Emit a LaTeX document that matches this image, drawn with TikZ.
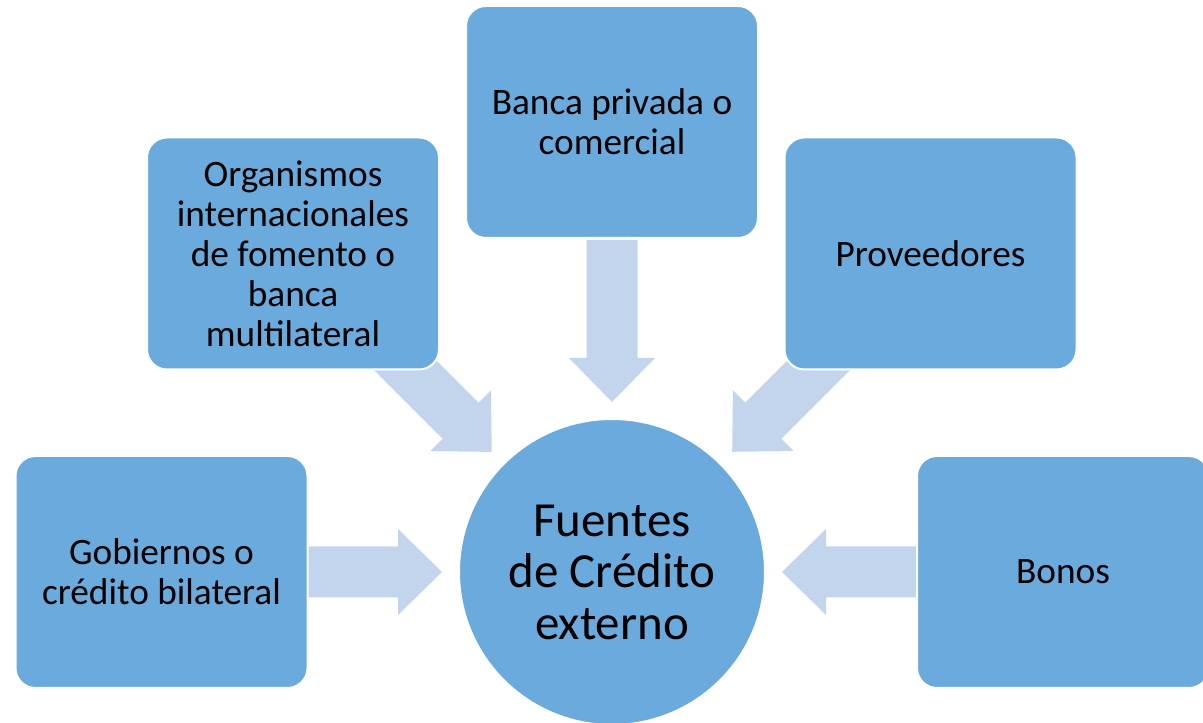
\documentclass[tikz,border=0pt]{standalone}
\usepackage{fontspec}
\setmainfont{Carlito}
\usetikzlibrary{calc,positioning,backgrounds}

\definecolor{cajaazul}{RGB}{107,170,220}
\definecolor{flechaazul}{RGB}{195,213,236}

\begin{document}
\begin{tikzpicture}
[x=1pt,y=1pt,
caja/.style={rectangle,rounded corners=20pt,fill=cajaazul,draw=white,line width=2pt,
minimum width=292pt,minimum height=232pt,align=center,font=\fontsize{37.3}{40}\selectfont},
fuente/.style={circle,fill=cajaazul,draw=white,line width=2pt,minimum size=306pt,
align=center,font=\fontsize{49}{51.5}\selectfont},
flecha/.style={fill=flechaazul}]
%%%%%%%%%%

\useasboundingbox (0,0) rectangle (1203,723);

\node[fuente] (credito) at (612,151) {Fuentes\\de Crédito\\externo};

\node[caja] (gobiernos) at (161.5,151) {Gobiernos o\\crédito bilateral};
\node[caja] (organismos) at (293,469.5) {Organismos\\internacionales\\de fomento o\\banca\\multilateral};
\node[caja] (banca) at (612,601) {Banca privada o\\comercial};
\node[caja] (proveedores) at (930.5,469.5) {Proveedores};
\node[caja] (bonos) at (1063,151) {Bonos};

\begin{scope}[on background layer]
\foreach \desde/\ang/\largo in {gobiernos/0/134,organismos/-45/160,banca/-90/162,proveedores/-135/160,bonos/180/134}
    \fill[flecha,shift={($(credito)!170pt!(\desde)$)},rotate=\ang]
        (0,0) -- (-44,43) -- (-44,25.5) -- (-\largo,25.5) -- (-\largo,-25.5)
        -- (-44,-25.5) -- (-44,-43) -- cycle;
\end{scope}
\end{tikzpicture}
\end{document}
